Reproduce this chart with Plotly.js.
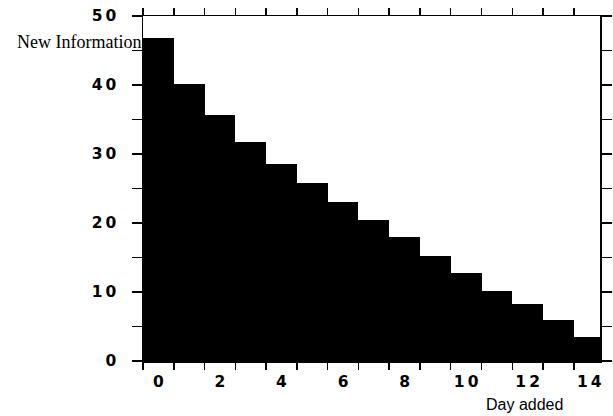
<!DOCTYPE html>
<html>
<head>
<meta charset="utf-8">
<script src="https://cdn.plot.ly/plotly-3.0.1.min.js"></script>
<style>html,body{margin:0;padding:0;background:#fff;}#chart{width:613px;height:416px;}</style>
</head>
<body>
<div id="chart"></div>
<script>
const days = [0,1,2,3,4,5,6,7,8,9,10,11,12,13,14];
const newInfo = [46.8,40.1,35.6,31.8,28.5,25.8,23.1,20.5,17.9,15.2,12.8,10.2,8.2,5.9,3.5];
const xTickVals = [0,2,4,6,8,10,12,14];
const xTickText = ['0','2','4','6','8','1\u20090','1\u20092','1\u20094'];
const xEdgeTicks = [-0.5,0.5,1.5,2.5,3.5,4.5,5.5,6.5,7.5,8.5,9.5,10.5,11.5,12.5,13.5,14.5];
const yTickVals = [0,5,10,15,20,25,30,35,40,45,50];
const yTickText = ['0','','1\u20090','','2\u20090','','3\u20090','','4\u20090','','5\u20090'];

const tickFont = {family:'DejaVu Sans', size:15.5, color:'#000', weight:'bold'};
const xRange = [-0.5,14.35];

const data = [
  {type:'bar', x:days, y:newInfo, marker:{color:'#000', line:{width:0}}, hoverinfo:'none'},
  {type:'scatter', x:[], y:[], xaxis:'x2', yaxis:'y', hoverinfo:'none'}
];

const layout = {
  width:613, height:416,
  margin:{l:142.5, r:13, t:16, b:55, pad:0},
  paper_bgcolor:'#fff', plot_bgcolor:'#fff',
  bargap:0,
  showlegend:false,
  xaxis:{
    range:xRange,
    tickvals:xEdgeTicks, ticktext:xEdgeTicks.map(()=>''),
    ticks:'outside', ticklen:7, tickwidth:1.5, tickcolor:'#000',
    showgrid:false, zeroline:false,
    showline:true, linecolor:'#000', linewidth:1.5, mirror:'ticks'
  },
  xaxis2:{
    overlaying:'x', side:'bottom', anchor:'y',
    range:xRange,
    tickvals:xTickVals, ticktext:xTickText,
    ticks:'', showgrid:false, zeroline:false, showline:false,
    tickfont:tickFont, ticklabelstandoff:9
  },
  yaxis:{
    range:[0,50],
    tickvals:yTickVals, ticktext:yTickText,
    ticks:'outside', ticklen:10, tickwidth:1.5, tickcolor:'#000',
    showgrid:false, zeroline:false,
    showline:true, linecolor:'#000', linewidth:1.5, mirror:'ticks',
    tickfont:tickFont, ticklabelstandoff:12
  },
  annotations:[
    {xref:'paper', yref:'paper', x:-0.001, y:0.925, xanchor:'right', yanchor:'middle',
     text:'New Information', showarrow:false,
     font:{family:'Liberation Serif', size:18, color:'#000'}},
    {xref:'paper', yref:'paper', x:0.923, y:-0.127, xanchor:'right', yanchor:'middle',
     text:'Day added', showarrow:false,
     font:{family:'Liberation Sans', size:16, color:'#000'}}
  ]
};

Plotly.newPlot('chart', data, layout, {staticPlot:true, displayModeBar:false});
</script>
</body>
</html>
